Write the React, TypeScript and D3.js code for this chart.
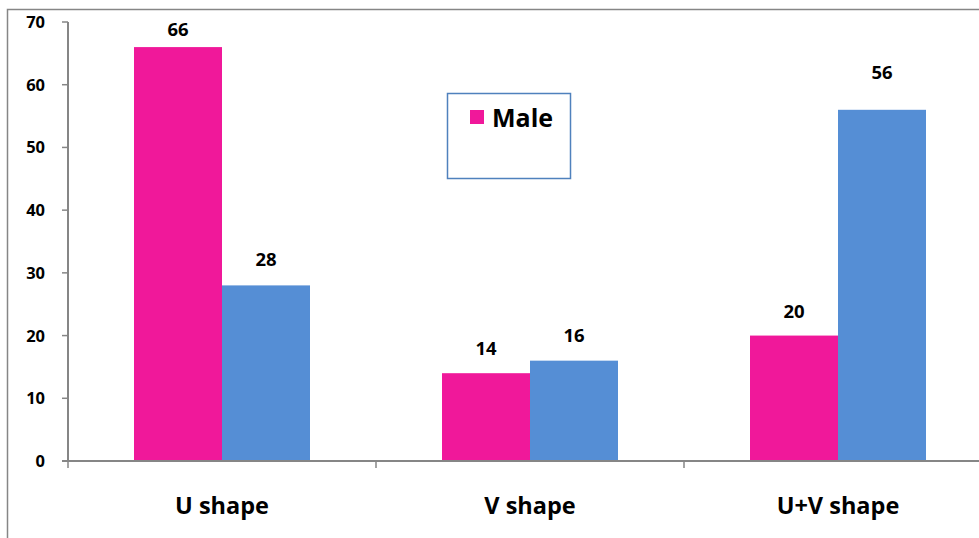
import React from "react";
import * as d3 from "d3";

const categories = ["U shape", "V shape", "U+V shape"];
const maleValues = [66, 14, 20];
const femaleValues = [28, 16, 56];
const yTicks = [0, 10, 20, 30, 40, 50, 60, 70];

const PINK = "#F0189A";
const BLUE = "#558ED5";
const AXIS = "#868686";
const FONT = "'Open Sans', 'Liberation Sans', sans-serif";

// per-label vertical lift above the bar top (Excel-style label placement)
const maleLift = [11, 18, 18];
const femaleLift = [19, 19, 31];

export default function App() {
  const W = 979;
  const H = 538;
  const left = 68;
  const top = 22;
  const bottom = 461;
  const bandW = 308;

  const x = d3
    .scaleBand<string>()
    .domain(categories)
    .range([left, left + bandW * categories.length])
    .paddingInner(0)
    .paddingOuter(0);
  const y = d3.scaleLinear().domain([0, 70]).range([bottom, top]);

  const barW = 88;
  const gap = (bandW - barW * 2) / 2;

  return (
    <svg
      width={W}
      height={H}
      style={{ position: "absolute", left: 0, top: 0, background: "#fff" }}
      fontFamily={FONT}
    >
      {/* chart frame */}
      <rect x={7.5} y={9.5} width={W + 20} height={H + 20} fill="none" stroke={AXIS} strokeWidth={1.5} />

      {/* bars */}
      {categories.map((c, i) => {
        const x0 = (x(c) as number) + gap;
        return (
          <g key={c}>
            <rect x={x0} y={y(maleValues[i])} width={barW} height={bottom - y(maleValues[i])} fill={PINK} />
            <rect x={x0 + barW} y={y(femaleValues[i])} width={barW} height={bottom - y(femaleValues[i])} fill={BLUE} />
            <text
              x={x0 + barW / 2}
              y={y(maleValues[i]) - maleLift[i]}
              textAnchor="middle"
              fontWeight="bold"
              fontSize={18.5}
              fill="#000"
            >
              {maleValues[i]}
            </text>
            <text
              x={x0 + barW * 1.5}
              y={y(femaleValues[i]) - femaleLift[i]}
              textAnchor="middle"
              fontWeight="bold"
              fontSize={18.5}
              fill="#000"
            >
              {femaleValues[i]}
            </text>
            <text
              x={(x(c) as number) + bandW / 2}
              y={514}
              textAnchor="middle"
              fontWeight="bold"
              fontSize={23.5}
              fill="#000"
            >
              {c}
            </text>
          </g>
        );
      })}

      {/* y axis */}
      <line x1={left} x2={left} y1={top} y2={bottom} stroke={AXIS} strokeWidth={2} />
      {yTicks.map((t) => (
        <g key={t}>
          <line x1={left - 6} x2={left} y1={y(t)} y2={y(t)} stroke={AXIS} strokeWidth={1.5} />
          <text x={45} y={y(t)} dy="0.36em" textAnchor="end" fontWeight="bold" fontSize={16.5} fill="#000">
            {t}
          </text>
        </g>
      ))}

      {/* x axis */}
      <line x1={left - 6} x2={W} y1={bottom} y2={bottom} stroke={AXIS} strokeWidth={2} />
      {d3.range(categories.length + 1).map((k) => (
        <line key={k} x1={left + k * bandW} x2={left + k * bandW} y1={bottom} y2={bottom + 7} stroke={AXIS} strokeWidth={1.5} />
      ))}

      {/* legend */}
      <rect x={447.5} y={93.5} width={123} height={85} fill="#fff" stroke="#4F81BD" strokeWidth={1.5} />
      <rect x={470} y={110} width={14} height={14} fill={PINK} />
      <text x={492} y={127} fontWeight="bold" fontSize={25} fill="#000">
        Male
      </text>
    </svg>
  );
}
